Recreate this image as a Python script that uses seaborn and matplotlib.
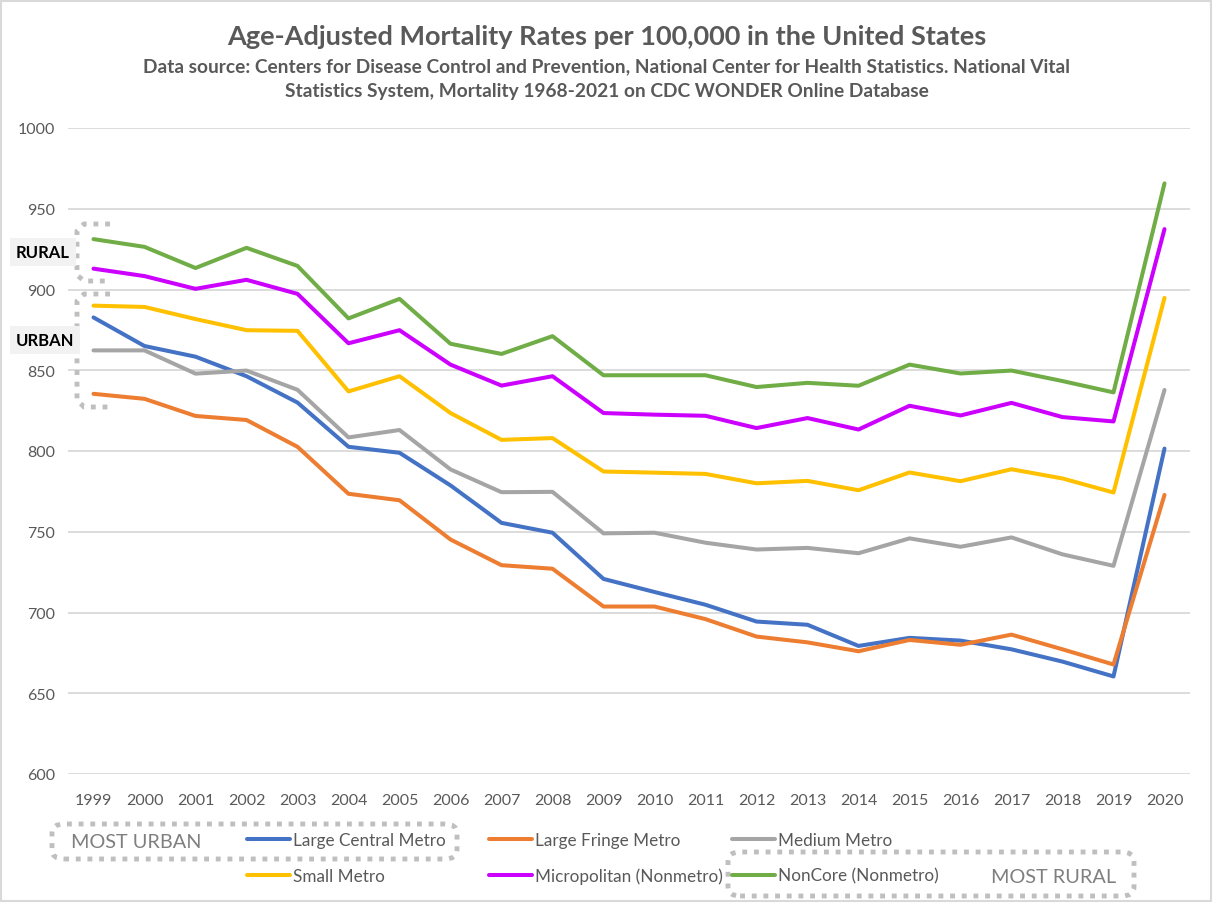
import pandas as pd
import matplotlib
matplotlib.use("Agg")
import matplotlib.pyplot as plt
import seaborn as sns
from matplotlib.lines import Line2D
from matplotlib.patches import FancyBboxPatch, Rectangle

# data
years = list(range(1999, 2021))
large_central = [882.7, 865.0, 858.4, 846.3, 830.0, 802.6, 798.9, 778.7, 755.5, 749.4, 720.8,
                 712.7, 704.8, 694.4, 692.4, 679.3, 684.3, 682.6, 677.2, 669.6, 660.4, 801.5]
large_fringe = [835.4, 832.3, 821.7, 819.2, 802.6, 773.5, 769.5, 745.2, 729.3, 727.1, 703.7,
                703.7, 695.9, 685.1, 681.5, 676.0, 683.0, 680.0, 686.3, 677.2, 667.8, 772.8]
medium_metro = [862.3, 862.3, 847.9, 849.8, 837.9, 808.4, 813.0, 788.6, 774.5, 774.7, 749.0,
                749.4, 743.2, 739.0, 740.0, 736.7, 745.9, 740.7, 746.5, 736.0, 728.9, 837.8]
small_metro = [890.0, 889.2, 881.7, 874.8, 874.4, 836.9, 846.3, 823.5, 806.9, 808.0, 787.3,
               786.6, 785.8, 780.0, 781.5, 775.7, 786.7, 781.3, 788.7, 783.0, 774.3, 894.8]
micropolitan = [912.9, 908.3, 900.4, 906.0, 897.3, 866.7, 874.8, 853.5, 840.5, 846.3, 823.5,
                822.5, 821.8, 814.2, 820.4, 813.3, 828.0, 822.0, 829.8, 821.0, 818.3, 937.4]
noncore = [931.2, 926.4, 913.3, 925.8, 914.6, 882.1, 894.2, 866.4, 860.1, 871.1, 846.9,
           846.9, 846.9, 839.6, 842.2, 840.4, 853.5, 848.0, 849.8, 843.3, 836.3, 965.7]

series_names = ["Large Central Metro", "Large Fringe Metro", "Medium Metro",
                "Small Metro", "Micropolitan (Nonmetro)", "NonCore (Nonmetro)"]
series_values = [large_central, large_fringe, medium_metro, small_metro, micropolitan, noncore]
colors = ["#4472C4", "#ED7D31", "#A5A5A5", "#FFC000", "#CC00FF", "#70AD47"]
palette = dict(zip(series_names, colors))

rows = []
for name, vals in zip(series_names, series_values):
    for y, v in zip(years, vals):
        rows.append({"year": y, "rate": v, "series": name})
df = pd.DataFrame(rows)

sns.set_style("white")
plt.rcParams["font.family"] = ["Lato", "DejaVu Sans"]

W, H = 1213, 904
fig = plt.figure(figsize=(W / 100, H / 100), dpi=100)
ax = fig.add_axes([68 / W, 1 - 775 / H, (1190 - 68) / W, (775 - 129) / H])

def fx(px):
    return px / W

def fy(py):
    return 1 - py / H

sns.lineplot(data=df, x="year", y="rate", hue="series", hue_order=series_names,
             palette=palette, linewidth=2.9, ax=ax, legend=False)
for ln in ax.get_lines():
    ln.set_solid_capstyle("round")
    ln.set_solid_joinstyle("round")

ax.set_xlim(1998.5, 2020.5)
ax.set_ylim(600, 1000)
ax.set_xticks(years)
ax.set_xticklabels([str(y) for y in years])
ax.set_yticks(range(600, 1001, 50))
ax.yaxis.grid(True, color="#D9D9D9", linewidth=1.3)
ax.set_axisbelow(True)
for s in ax.spines.values():
    s.set_visible(False)
ax.tick_params(axis="both", length=0, labelsize=11.5, labelcolor="#595959")
ax.tick_params(axis="y", pad=9)
ax.tick_params(axis="x", pad=14)
ax.set_xlabel("")
ax.set_ylabel("")

# titles
fig.text(0.5, fy(37), "Age-Adjusted Mortality Rates per 100,000 in the United States",
         ha="center", va="center", fontsize=19.5, fontweight="bold", color="#595959")
fig.text(0.5, fy(67), "Data source: Centers for Disease Control and Prevention, National Center for Health Statistics. National Vital",
         ha="center", va="center", fontsize=13.8, fontweight="bold", color="#595959")
fig.text(0.5, fy(91), "Statistics System, Mortality 1968-2021 on CDC WONDER Online Database",
         ha="center", va="center", fontsize=13.8, fontweight="bold", color="#595959")

# legend: three columns with fixed spacing like Excel
col_x = [247, 489, 732]
for c in range(3):
    idx = [c, c + 3]
    handles = [Line2D([0], [0], color=colors[i], lw=2.9, solid_capstyle="round") for i in idx]
    leg = fig.legend(handles, [series_names[i] for i in idx], loc="upper left",
                     bbox_to_anchor=(fx(col_x[c]), fy(833)), frameon=False,
                     fontsize=12.3, handlelength=2.5, handletextpad=0.22,
                     labelspacing=1.15, borderpad=0, borderaxespad=0)
    for t in leg.get_texts():
        t.set_color("#595959")

# dotted boxes for MOST URBAN / MOST RURAL
dot = dict(facecolor="none", edgecolor="#BFBFBF", linewidth=3.5, linestyle=(0, (1, 1.4)),
           transform=fig.transFigure)
fig.add_artist(FancyBboxPatch((fx(52), fy(860)), fx(457) - fx(52), fy(825) - fy(860),
                              boxstyle="round,pad=0,rounding_size=0.01", **dot))
fig.add_artist(FancyBboxPatch((fx(728), fy(897)), fx(1134) - fx(728), fy(853) - fy(897),
                              boxstyle="round,pad=0,rounding_size=0.01", **dot))
fig.text(fx(71), fy(843), "MOST URBAN", ha="left", va="center", fontsize=14.3, color="#7F7F7F")
fig.text(fx(1116), fy(878), "MOST RURAL", ha="right", va="center", fontsize=14.3, color="#7F7F7F")

# brackets at left
bracket_style = dict(color="#BFBFBF", linewidth=3.5, linestyle=(0, (1, 1.4)),
                     transform=fig.transFigure, solid_capstyle="butt")
fig.add_artist(Line2D([fx(110), fx(84), fx(77), fx(77), fx(84), fx(110)],
                      [fy(225), fy(225), fy(232), fy(276), fy(282), fy(282)], **bracket_style))
fig.add_artist(Line2D([fx(110), fx(84), fx(77), fx(77), fx(84), fx(110)],
                      [fy(295), fy(295), fy(302), fy(401), fy(408), fy(408)], **bracket_style))

box = dict(boxstyle="square,pad=0.35", facecolor="#F2F2F2", edgecolor="none")
fig.text(fx(16), fy(253), "RURAL", ha="left", va="center", fontsize=12, fontweight="bold",
         color="black", bbox=box)
fig.text(fx(16), fy(341), "URBAN", ha="left", va="center", fontsize=12, fontweight="bold",
         color="black", bbox=box)

# chart border
fig.add_artist(Rectangle((0.001, 0.002), 0.997, 0.996, transform=fig.transFigure,
                         facecolor="none", edgecolor="#D9D9D9", linewidth=1.5))

plt.savefig("out.png", dpi=100)
